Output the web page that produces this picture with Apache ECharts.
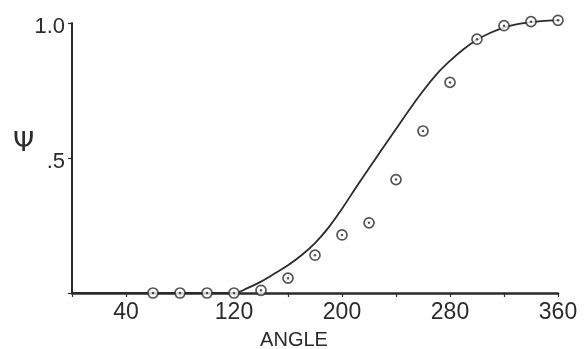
<!DOCTYPE html>
<html><head><meta charset="utf-8">
<script src="https://cdn.jsdelivr.net/npm/echarts@6/dist/echarts.min.js"></script>
<style>html,body{margin:0;padding:0;background:#fff}#c{width:586px;height:349px}</style>
</head><body><div id="c"></div>
<script>
// observed points (circles)
const angles = [60,80,100,120,140,160,180,200,220,240,260,280,300,320,340,360];
const psiObserved = [0,0,0,0,0.01,0.055,0.14,0.215,0.26,0.42,0.60,0.78,0.94,0.99,1.005,1.01];
// fitted curve
const curveAngles = [0,120,130,140,150,160,170,180,190,200,210,220,230,240,250,260,270,280,290,300,310,320,330,340,350,360,366];
const psiCurve = [0,0,0.018,0.042,0.072,0.103,0.140,0.185,0.242,0.312,0.388,0.462,0.535,0.607,0.680,0.748,0.810,0.860,0.903,0.938,0.964,0.983,0.996,1.003,1.008,1.010,1.011];
// tick labels
const xLabelValues = [40,120,200,280,360];
const yLabelValues = [0.5,1.0];
const yLabelTexts = ['.5','1.0'];

const ink = '#2b2b2b';
const font = "'Liberation Sans', Arial, sans-serif";
const pts = angles.map((a,i)=>[a, psiObserved[i]]);
const curve = curveAngles.map((a,i)=>[a, psiCurve[i]]);

const chart = echarts.init(document.getElementById('c'));
chart.setOption({
  backgroundColor: '#ffffff',
  animation: false,
  title: [
    {text: 'Ψ', left: 8, top: 125, textStyle: {fontFamily: "'DejaVu Sans', sans-serif", fontWeight: 'normal', fontSize: 27, color: ink}},
    {text: 'ANGLE', left: 289, top: 325, textAlign: 'center', textStyle: {fontFamily: font, fontWeight: 'normal', fontSize: 20, color: ink}}
  ],
  grid: {left: 72, right: 28, top: 23, bottom: 56},
  xAxis: {
    type: 'value', min: 0, max: 360, interval: 40,
    axisLine: {show: true, lineStyle: {color: ink, width: 2.5}},
    axisTick: {show: true, length: 4, lineStyle: {color: ink, width: 1.2}},
    splitLine: {show: false},
    axisLabel: {
      margin: 8, fontFamily: font, fontSize: 23, color: ink,
      formatter: v => xLabelValues.indexOf(v) >= 0 ? String(v) : ''
    }
  },
  yAxis: {
    type: 'value', min: 0, max: 1, interval: 0.5,
    axisLine: {show: true, lineStyle: {color: ink, width: 2}},
    axisTick: {show: true, length: 4, lineStyle: {color: ink, width: 1.2}},
    splitLine: {show: false},
    axisLabel: {
      margin: 7, fontFamily: font, fontSize: 22, color: ink, lineHeight: 30, verticalAlign: 'top', padding: [-11,0,0,0],
      formatter: v => { const i = yLabelValues.indexOf(v); return i >= 0 ? yLabelTexts[i] : ''; }
    }
  },
  series: [
    {type: 'line', data: curve, smooth: 0.4, showSymbol: false, clip: false,
     lineStyle: {color: ink, width: 1.8}, z: 2},
    {type: 'scatter', data: pts, symbol: 'circle', symbolSize: 10, clip: false,
     itemStyle: {color: '#ffffff', borderColor: ink, borderWidth: 1.7}, z: 3},
    {type: 'scatter', data: pts, symbol: 'circle', symbolSize: 2.5, clip: false,
     itemStyle: {color: ink}, z: 4}
  ]
});
</script>
</body></html>
